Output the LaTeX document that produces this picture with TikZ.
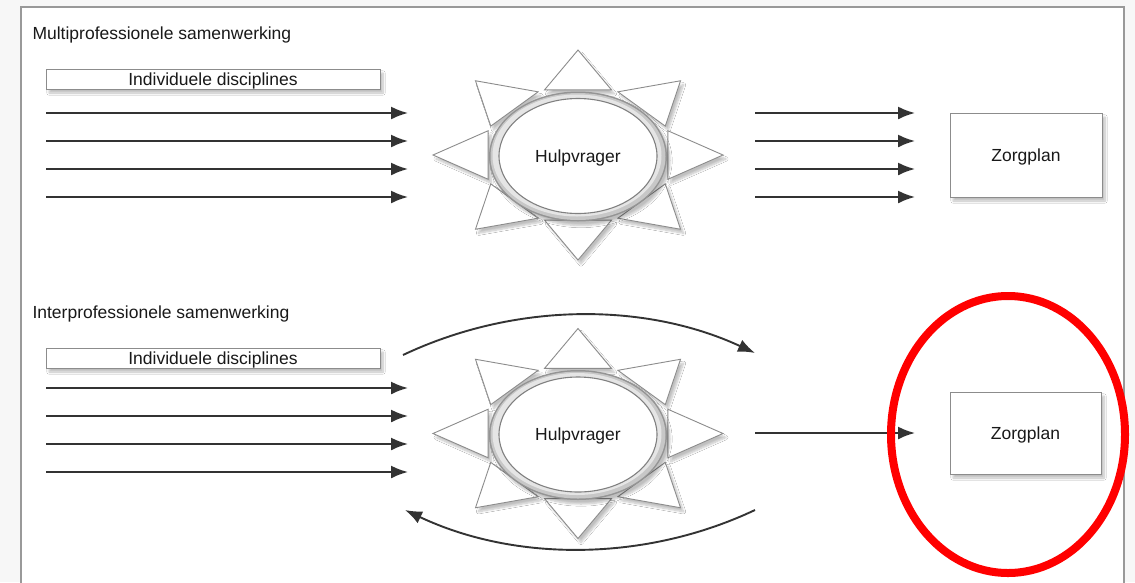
\documentclass[tikz,border=0pt]{standalone}
\usepackage{fontspec}
\setmainfont{Liberation Sans}
\usetikzlibrary{arrows.meta,shapes.geometric,shadows.blur}
\tikzset{
  txt/.style={font=\fontsize{17.5}{20}\selectfont, text=black!90},
  arr/.style={draw=black!80, line width=1.9pt, -{Latex[length=17pt,width=13pt]}},
  shad/.style={blur shadow={shadow xshift=3pt, shadow yshift=-4pt, shadow blur steps=8, shadow opacity=25}},
  bx/.style={txt, draw=black!45, fill=white, line width=1pt, shad, inner sep=0pt, text height=12.6pt, text depth=0pt},
  ray/.style={draw=black!45, fill=white, line width=0.9pt},
  core/.style={txt, ellipse, draw=black!50, line width=1.1pt, fill=white, inner sep=0pt, minimum width=158pt, minimum height=115pt, text height=12.6pt, text depth=0pt},
  redring/.style={ellipse, draw=red, line width=8pt, inner sep=0pt, minimum width=234pt, minimum height=277pt}
}
\newcommand\mysun[2]{%
  \begin{scope}[shift={(578,#2)}]
    \foreach \k in {0,...,7} {
      \pgfmathsetmacro\cc{cos(45*\k)}
      \pgfmathsetmacro\ss{sin(45*\k)}
      \path[shad] ({145*\cc},{105*\ss}) -- ({145*(0.62*\cc-0.231*\ss)},{105*(0.62*\ss+0.231*\cc)}) -- ({145*(0.62*\cc+0.231*\ss)},{105*(0.62*\ss-0.231*\cc)}) -- cycle;
    }
    \foreach \k in {0,...,7} {
      \pgfmathsetmacro\cc{cos(45*\k)}
      \pgfmathsetmacro\ss{sin(45*\k)}
      \draw[ray] ({145*\cc},{105*\ss}) -- ({145*(0.62*\cc-0.231*\ss)},{105*(0.62*\ss+0.231*\cc)}) -- ({145*(0.62*\cc+0.231*\ss)},{105*(0.62*\ss-0.231*\cc)}) -- cycle;
    }
    \fill[black!42, shad] (0,1.5) ellipse (89 and 65);
    \fill[black!22] (0,1.5) ellipse (87.5 and 63.5);
    \fill[black!10] (-1,0.5) ellipse (84.5 and 61);
    \node[core] (#1) at (0,1) {Hulpvrager};
  \end{scope}}

\begin{document}
\begin{tikzpicture}[x=1pt,y=-1pt]
\useasboundingbox (0,0) rectangle (1135,582);
\fill[black!3] (0,0) rectangle (1135,582);
\draw[black!40, line width=2pt, fill=white] (21,600) |- (1124,7) -- (1124,600);

% ---------- top: multiprofessional ----------
\node[txt, anchor=base west] (t1) at (29,39) {Multiprofessionele samenwerking};
\node[bx, minimum width=334pt, minimum height=20pt] (d1) at (213,79) {Individuele disciplines};
\foreach \y [count=\i] in {113,141,169,197} {
  \coordinate (a\i) at (46,\y);
  \coordinate (b\i) at (408,\y);
  \coordinate (c\i) at (755,\y);
  \coordinate (e\i) at (915,\y);
  \draw[arr] (a\i) -- (b\i);
  \draw[arr] (c\i) -- (e\i);
}
\mysun{h1}{155}
\node[bx, minimum width=152pt, minimum height=84pt] (z1) at (1026,155) {Zorgplan};

% ---------- bottom: interprofessional ----------
\node[txt, anchor=base west] (t2) at (29,318) {Interprofessionele samenwerking};
\node[bx, minimum width=334pt, minimum height=20pt] (d2) at (213,358) {Individuele disciplines};
\foreach \y [count=\i] in {388,416,444,472} {
  \coordinate (f\i) at (46,\y);
  \coordinate (g\i) at (408,\y);
  \draw[arr] (f\i) -- (g\i);
}
\mysun{h2}{433.5}
\node[bx, minimum width=151pt, minimum height=82pt] (z2) at (1025.5,433) {Zorgplan};
\coordinate (m1) at (755,433);
\coordinate (m2) at (915,433);
\draw[arr] (m1) -- (m2);
\coordinate (ta) at (403,355);
\coordinate (tb) at (755,353);
\draw[arr] (ta) .. controls (515,302) and (645,302) .. (tb);
\coordinate (ba) at (755,510);
\coordinate (bb) at (405,510);
\draw[arr] (ba) .. controls (645,562) and (515,562) .. (bb);

\node[redring] (ring) at (1008,434.5) {};
\end{tikzpicture}
\end{document}
